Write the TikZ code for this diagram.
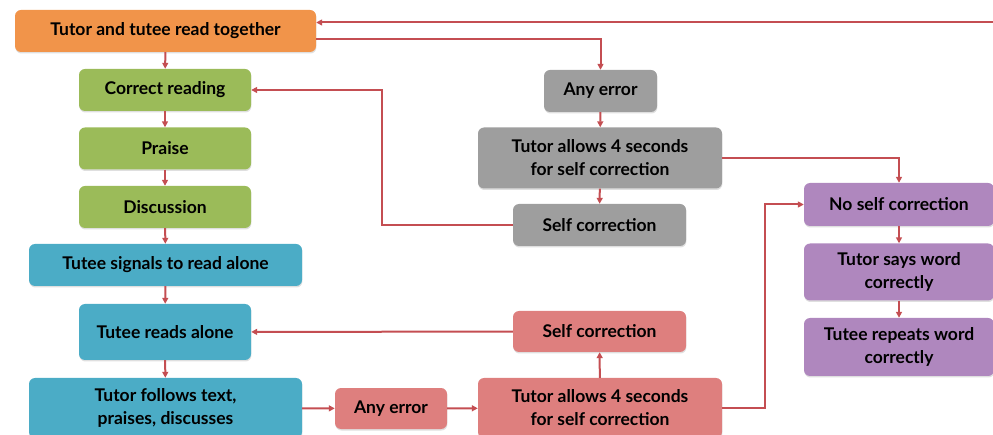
\documentclass[tikz,border=0pt]{standalone}
\usepackage{fontspec}
\setmainfont{Lato}
\usetikzlibrary{arrows.meta}
\usetikzlibrary{shadows}
\definecolor{boxorange}{RGB}{241,148,74}
\definecolor{boxgreen}{RGB}{155,187,89}
\definecolor{boxblue}{RGB}{75,172,198}
\definecolor{boxgray}{RGB}{158,158,158}
\definecolor{boxred}{RGB}{222,127,126}
\definecolor{boxpurple}{RGB}{175,135,190}
\definecolor{linered}{RGB}{196,78,82}

\begin{document}
\begin{tikzpicture}[x=1pt,y=-1pt,
  box/.style={rounded corners=6pt,align=center,inner sep=0pt,
    font=\fontsize{17.5}{23}\selectfont\bfseries,
    drop shadow={shadow xshift=0.4pt,shadow yshift=-1.5pt,opacity=0.25}},
  arr/.style={draw=linered,line width=2pt,-{Triangle[length=6pt,width=6pt]}}]
\useasboundingbox (0,0) rectangle (993,435);

\node[box,fill=boxorange,minimum width=301pt,minimum height=42pt] (top) at (165.5,31) {Tutor and tutee read together};
\node[box,fill=boxgreen,minimum width=172pt,minimum height=42pt] (corr) at (165,90) {Correct reading};
\node[box,fill=boxgreen,minimum width=172pt,minimum height=42pt] (praise) at (165,148.5) {Praise};
\node[box,fill=boxgreen,minimum width=172pt,minimum height=42pt] (disc) at (165,207) {Discussion};
\node[box,fill=boxblue,minimum width=273pt,minimum height=42pt] (signals) at (165.5,265) {Tutee signals to read alone};
\node[box,fill=boxblue,minimum width=172pt,minimum height=56pt] (reads) at (165,332) {Tutee reads alone};
\node[box,fill=boxblue,minimum width=273pt,minimum height=60pt] (follows) at (165.5,408) {Tutor follows text,\\praises, discusses};

\node[box,fill=boxgray,minimum width=113pt,minimum height=42pt] (gerr) at (600.5,91) {Any error};
\node[box,fill=boxgray,minimum width=244pt,minimum height=61pt] (gallow) at (600,158) {Tutor allows 4 seconds\\for self correction};
\node[box,fill=boxgray,minimum width=173pt,minimum height=42pt] (gself) at (599.5,225) {Self correction};

\node[box,fill=boxred,minimum width=112pt,minimum height=41pt] (rerr) at (391,408.5) {Any error};
\node[box,fill=boxred,minimum width=244pt,minimum height=60pt] (rallow) at (600,408) {Tutor allows 4 seconds\\for self correction};
\node[box,fill=boxred,minimum width=173pt,minimum height=41pt] (rself) at (599.5,331.5) {Self correction};

\node[box,fill=boxpurple,minimum width=190pt,minimum height=43pt] (noself) at (899,204.5) {No self correction};
\node[box,fill=boxpurple,minimum width=190pt,minimum height=57pt] (says) at (899,272) {Tutor says word\\correctly};
\node[box,fill=boxpurple,minimum width=190pt,minimum height=58pt] (repeats) at (899,347) {Tutee repeats word\\correctly};

% main column
\draw[arr] (top) -- (corr);
\draw[arr] (corr) -- (praise);
\draw[arr] (praise) -- (disc);
\draw[arr] (disc) -- (signals);
\draw[arr] (signals) -- (reads);
\draw[arr] (reads) -- (follows);

% loop back from the right
\coordinate (back) at (993,22.5);
\draw[arr] (back) -- (back -| top.east);
\draw[arr] ([yshift=-8pt]top.east) -| (gerr.north);

% error while reading together
\draw[arr] (gerr) -- (gallow);
\draw[arr] (gallow) -- (gself);
\draw[arr] (gself.west) -- ++(-131,0) |- (corr.east);
\draw[arr] (gallow.east) -| (noself.north);

% error while reading alone
\draw[arr] (follows) -- (rerr);
\draw[arr] (rerr) -- (rallow);
\draw[arr] (rallow) -- (rself);
\draw[arr] (rself) -- (reads);
\draw[arr] (rallow.east) -- ++(43,0) |- (noself.west);

\draw[arr] (noself) -- (says);
\draw[arr] (says) -- (repeats);
\end{tikzpicture}
\end{document}
